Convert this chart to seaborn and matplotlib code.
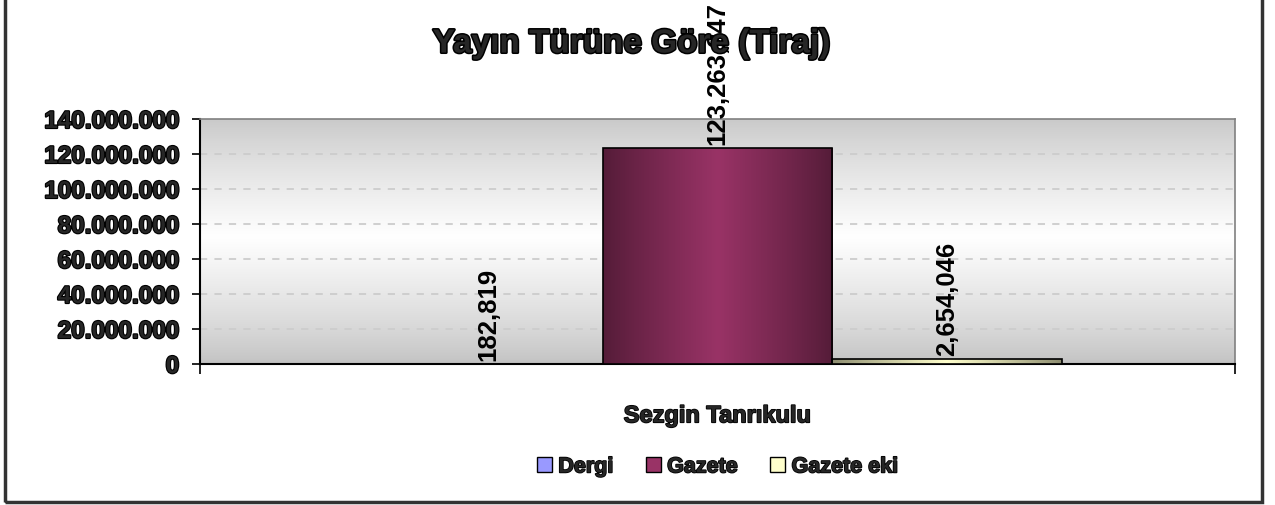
import numpy as np
import pandas as pd
import seaborn as sns
import matplotlib
matplotlib.use("Agg")
import matplotlib.pyplot as plt
import matplotlib.patheffects as pe
from matplotlib.patches import Rectangle
from matplotlib.ticker import FuncFormatter, FixedLocator

# ---- data ----
category = ["Sezgin Tanrıkulu"]
series = ["Dergi", "Gazete", "Gazete eki"]
values = [182819, 123263247, 2654046]
colors = ["#9999FF", "#993366", "#FFFFCC"]
yticks = [0, 20000000, 40000000, 60000000, 80000000, 100000000, 120000000, 140000000]
title = "Yayın Türüne Göre (Tiraj)"

df = pd.DataFrame({"kategori": category * len(series), "tur": series, "tiraj": values})

sns.set_style("white")
plt.rcParams["font.family"] = ["Liberation Sans", "DejaVu Sans"]

fig = plt.figure(figsize=(12.75, 5.06), dpi=100)
ax = fig.add_axes([200 / 1275, 1 - 365 / 506, 1035 / 1275, 245 / 506])

sns.barplot(data=df, x="kategori", y="tiraj", hue="tur", hue_order=series,
            palette=colors, width=0.665, gap=0, dodge=True, ax=ax,
            edgecolor="black", linewidth=1.2, saturation=1, legend=True, zorder=3)

ax.set_ylim(0, 140000000)
ax.set_xlim(-0.5, 0.5)

# background gradient (gray - white - gray vertically)
t = np.linspace(0, 1, 256)
g = 0.76 + 0.24 * np.clip(1 - np.abs(t - 0.52) / 0.52, 0, 1) ** 0.8
bg = np.dstack([g, g, g]).reshape(256, 1, 3)
ax.imshow(bg, extent=[0, 1, 0, 1], transform=ax.transAxes, aspect="auto",
          zorder=0, origin="lower")

# gradient on bars
for patch, col in zip(ax.patches, colors):
    x0, y0 = patch.get_x(), patch.get_y()
    w, h = patch.get_width(), patch.get_height()
    base = np.array(matplotlib.colors.to_rgb(col))
    s = np.linspace(0, 1, 200)
    f = 0.55 + 0.45 * (1 - np.abs(s - 0.5) / 0.5) ** 0.9
    grad = (base[None, :] * f[:, None]).reshape(1, 200, 3)
    im = ax.imshow(grad, extent=[x0, x0 + w, y0, y0 + h], aspect="auto", zorder=3.5)
    im.set_clip_path(patch)
    patch.set_zorder(4)
    patch.set_facecolor("none")

# grid
ax.set_yticks(yticks)
ax.yaxis.grid(True, color="#cccccc", linestyle=(0, (4, 4)), linewidth=1.3, zorder=1)
ax.set_axisbelow(True)

fmt = FuncFormatter(lambda v, p: f"{v:,.0f}".replace(",", "."))
ax.yaxis.set_major_formatter(fmt)
stroke = [pe.withStroke(linewidth=1.6, foreground="black")]
for lbl in ax.get_yticklabels():
    lbl.set_fontsize(17.5)
    lbl.set_fontweight("bold")
    lbl.set_path_effects(stroke)
ax.tick_params(axis="y", which="major", direction="out", length=6, width=1.2,
               color="black", left=True, pad=9)

# x axis
ax.set_xticks([0])
ax.set_xticklabels(category, fontsize=17, fontweight="bold",
                   path_effects=[pe.withStroke(linewidth=1.2, foreground="black")])
ax.tick_params(axis="x", which="major", length=0, pad=29)
ax.xaxis.set_minor_locator(FixedLocator([-0.5, 0.5]))
ax.tick_params(axis="x", which="minor", direction="out", length=7, width=1.2,
               color="black", bottom=True)
ax.set_xlabel("")
ax.set_ylabel("")

for side in ["left", "bottom"]:
    ax.spines[side].set_color("black")
    ax.spines[side].set_linewidth(1.5)
for side in ["top", "right"]:
    ax.spines[side].set_color("#808080")
    ax.spines[side].set_linewidth(1.2)
    ax.spines[side].set_visible(True)

# data labels
for patch, v in zip(ax.patches, values):
    cx = patch.get_x() + patch.get_width() / 2
    ax.annotate(f"{v:,}", (cx, patch.get_height()), xytext=(0, 3),
                textcoords="offset points", rotation=90, ha="center", va="bottom",
                fontsize=18.5, fontweight="bold", color="black", zorder=6,
                annotation_clip=False)

# title
fig.text(632 / 1275, 1 - 45 / 506, title, ha="center", va="center", fontsize=24,
         fontweight="bold", path_effects=[pe.withStroke(linewidth=2.2, foreground="black")],
         zorder=5)

# legend
handles, labels = ax.get_legend_handles_labels()
leg = ax.legend(handles, series, ncol=3, loc="center", bbox_to_anchor=(0.5, -0.42),
                frameon=False, handlelength=0.7, handleheight=0.7, handletextpad=0.3,
                columnspacing=1.5, prop={"size": 15.5, "weight": "bold"})
for h, c in zip(leg.legend_handles, colors):
    h.set_facecolor(c)
    h.set_edgecolor("black")
    h.set_linewidth(1.0)
for txt in leg.get_texts():
    txt.set_path_effects([pe.withStroke(linewidth=1.2, foreground="black")])

# outer frame
fig.patches.append(Rectangle((5 / 1275, 3 / 506), 1257 / 1275, 1.2, transform=fig.transFigure,
                             fill=False, edgecolor="#333333", linewidth=2.5, zorder=0))

fig.savefig("out.png", dpi=100)
